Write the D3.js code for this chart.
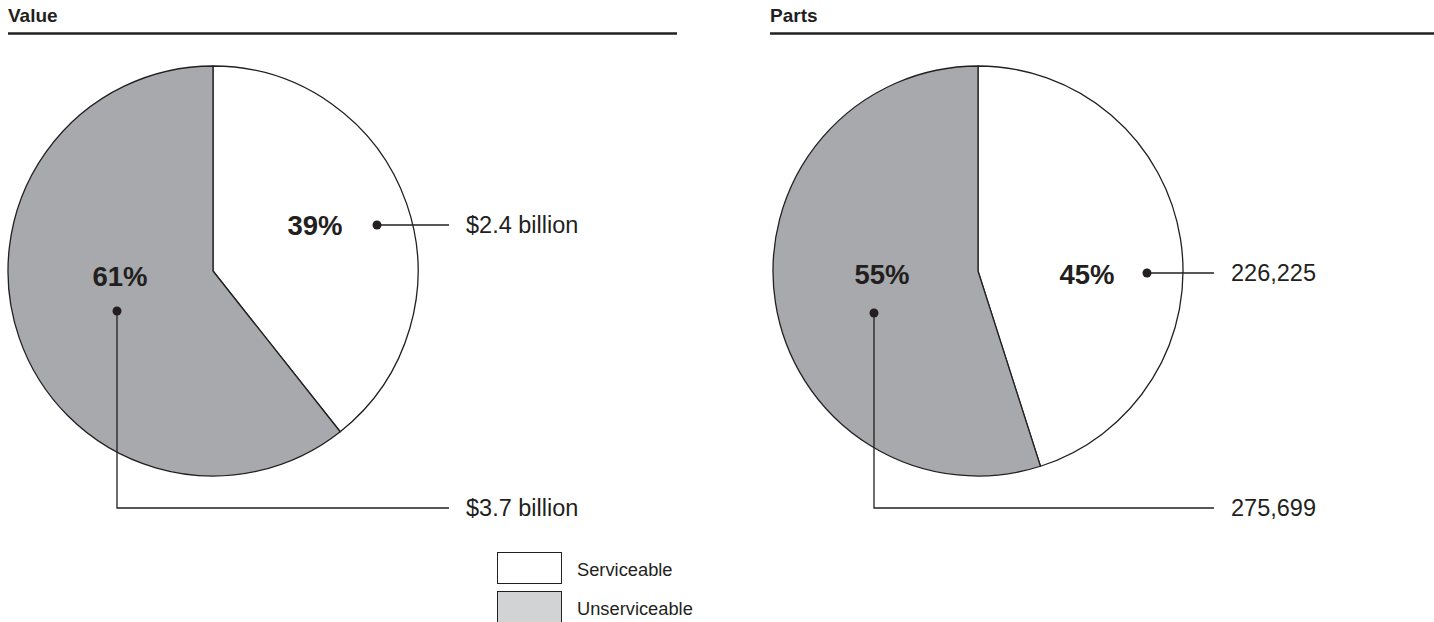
<!DOCTYPE html>
<html>
<head>
<meta charset="utf-8">
<script src="https://cdn.jsdelivr.net/npm/d3@7"></script>
<style>
  html, body { margin: 0; padding: 0; background: #ffffff; }
  svg { display: block; font-family: "Liberation Sans", Arial, Helvetica, sans-serif; }
</style>
</head>
<body>
<svg id="chart" width="1434" height="622"></svg>
<script>
// Inventory split between serviceable and unserviceable parts
const categories = ["Serviceable", "Unserviceable"];
const valueBillions = [2.4, 3.7];          // dollar value, billions
const partCounts = [226225, 275699];       // number of parts
const panelTitles = ["Value", "Parts"];

const ink = "#231f20";
const sliceFill = { Serviceable: "#ffffff", Unserviceable: "#a7a9ac" };
const legendFill = { Serviceable: "#ffffff", Unserviceable: "#d1d3d4" };

const svg = d3.select("#chart");

const fmtValue = v => "$" + d3.format(".1f")(v) + " billion";
const fmtCount = d3.format(",");

// Panel layout: header rule, pie centre and where each callout sits
const panels = [
  {
    title: panelTitles[0], values: valueBillions, fmt: fmtValue,
    x0: 8, x1: 677, cx: 213, cy: 271,
    callouts: [
      { pct: [102, -36], dot: [164, -46], path: "h" },
      { pct: [-93, 15], dot: [-96, 40], path: "v", lineY: 508 }
    ]
  },
  {
    title: panelTitles[1], values: partCounts, fmt: fmtCount,
    x0: 770, x1: 1434, cx: 978, cy: 271,
    callouts: [
      { pct: [109, 13], dot: [169, 2], path: "h" },
      { pct: [-96, 13], dot: [-104, 42], path: "v", lineY: 508 }
    ]
  }
];

const radius = 205;
const pie = d3.pie().sort(null).value(d => d.value).startAngle(0).endAngle(2 * Math.PI);
const arc = d3.arc().innerRadius(0).outerRadius(radius);
const pctFmt = d3.format(".0%");

panels.forEach(p => {
  const g = svg.append("g");

  // header
  g.append("text")
    .attr("x", p.x0).attr("y", 22)
    .attr("font-size", 19).attr("font-weight", "bold").attr("fill", ink)
    .text(p.title);
  g.append("line")
    .attr("x1", p.x0).attr("x2", p.x1).attr("y1", 33.5).attr("y2", 33.5)
    .attr("stroke", ink).attr("stroke-width", 2.6);

  const data = categories.map((c, i) => ({ cat: c, value: p.values[i] }));
  const total = d3.sum(data, d => d.value);
  const arcs = pie(data);

  const pg = g.append("g").attr("transform", `translate(${p.cx},${p.cy})`);
  pg.selectAll("path.slice")
    .data(arcs)
    .join("path")
    .attr("class", "slice")
    .attr("d", arc)
    .attr("fill", d => sliceFill[d.data.cat])
    .attr("stroke", ink)
    .attr("stroke-width", 1.3)
    .attr("stroke-linejoin", "round");

  // callouts: percent, leader line with dot, absolute figure
  const lineEnd = 236, labelX = 253;
  arcs.forEach((a, i) => {
    const c = p.callouts[i];
    pg.append("text")
      .attr("x", c.pct[0]).attr("y", c.pct[1])
      .attr("text-anchor", "middle")
      .attr("font-size", 27.5).attr("font-weight", "bold").attr("fill", ink)
      .text(pctFmt(a.data.value / total));

    let ly;
    if (c.path === "h") {
      ly = c.dot[1];
      pg.append("line")
        .attr("x1", c.dot[0]).attr("y1", ly).attr("x2", lineEnd).attr("y2", ly)
        .attr("stroke", ink).attr("stroke-width", 1.3);
    } else {
      ly = c.lineY - p.cy;
      pg.append("path")
        .attr("d", `M${c.dot[0]},${c.dot[1]}V${ly}H${lineEnd}`)
        .attr("fill", "none").attr("stroke", ink).attr("stroke-width", 1.3);
    }
    pg.append("circle")
      .attr("cx", c.dot[0]).attr("cy", c.dot[1]).attr("r", 4.5)
      .attr("fill", ink);
    pg.append("text")
      .attr("x", labelX).attr("y", ly + 8)
      .attr("font-size", 23.5).attr("fill", ink)
      .text(p.fmt(a.data.value));
  });
});

// legend
const lg = svg.append("g").attr("transform", "translate(497,552)");
categories.forEach((c, i) => {
  const row = lg.append("g").attr("transform", `translate(0,${i * 39})`);
  row.append("rect")
    .attr("x", 0.5).attr("y", 0.5).attr("width", 64).attr("height", 31)
    .attr("fill", legendFill[c]).attr("stroke", ink).attr("stroke-width", 1);
  row.append("text")
    .attr("x", 80).attr("y", 24)
    .attr("font-size", 18.3).attr("fill", ink)
    .text(c);
});
</script>
</body>
</html>
